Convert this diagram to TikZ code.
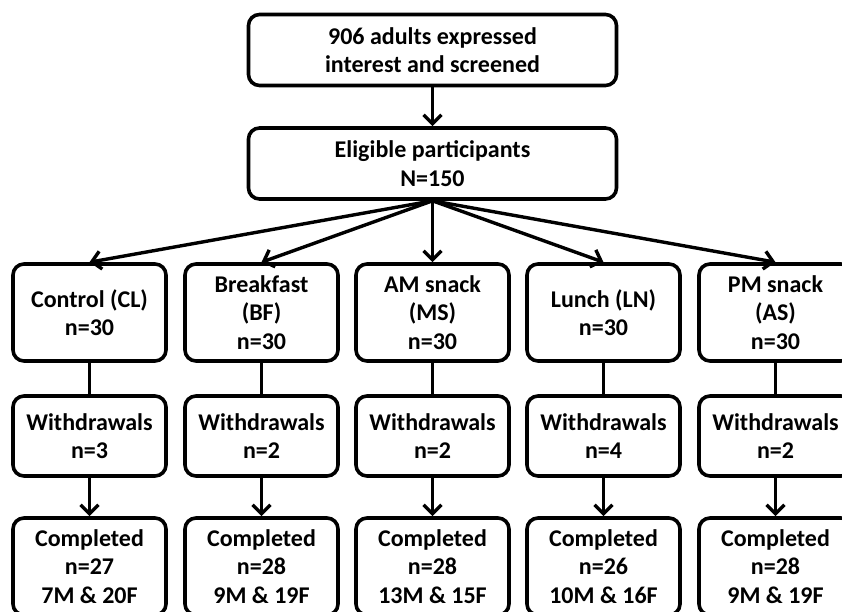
\documentclass[tikz,border=0pt]{standalone}
\usepackage{fontspec}
\setmainfont{Carlito}
\usetikzlibrary{arrows.meta}
\tikzset{
  box/.style={draw, line width=3.6pt, rounded corners=11pt, align=center,
    font=\bfseries\fontsize{24}{28.5}\selectfont, inner sep=0pt},
  topbox/.style={box, minimum width=368pt, minimum height=71pt},
  grpbox/.style={box, minimum width=153pt, minimum height=97pt},
  wdbox/.style={box, minimum width=153pt, minimum height=80pt},
  conn/.style={line width=3.4pt},
  arr/.style={conn, -{Straight Barb[length=9pt,width=18pt,line width=3.4pt]}},
}
\begin{document}
\begin{tikzpicture}[x=1pt,y=-1pt]
\useasboundingbox (0,0) rectangle (842,611);
\clip (0,0) rectangle (842,611);
\node[topbox] (scr) at (432.5,50) {906 adults expressed\\interest and screened};
\node[topbox] (elig) at (432.5,163.5) {Eligible participants\\N=150};
\node[grpbox] (cl) at (89.5,312.5) {Control (CL)\\n=30};
\node[grpbox] (bf) at (261.5,312.5) {Breakfast\\(BF)\\n=30};
\node[grpbox] (ms) at (432.5,312.5) {AM snack\\(MS)\\n=30};
\node[grpbox] (ln) at (603.5,312.5) {Lunch (LN)\\n=30};
\node[grpbox] (as) at (775.5,312.5) {PM snack\\(AS)\\n=30};
\node[wdbox] (wcl) at (89.5,436) {Withdrawals\\n=3};
\node[wdbox] (wbf) at (261.5,436) {Withdrawals\\n=2};
\node[wdbox] (wms) at (432.5,436) {Withdrawals\\n=2};
\node[wdbox] (wln) at (603.5,436) {Withdrawals\\n=4};
\node[wdbox] (was) at (775.5,436) {Withdrawals\\n=2};
\node[grpbox] (ccl) at (89.5,566.5) {Completed\\n=27\\7M \& 20F};
\node[grpbox] (cbf) at (261.5,566.5) {Completed\\n=28\\9M \& 19F};
\node[grpbox] (cms) at (432.5,566.5) {Completed\\n=28\\13M \& 15F};
\node[grpbox] (cln) at (603.5,566.5) {Completed\\n=26\\10M \& 16F};
\node[grpbox] (cas) at (775.5,566.5) {Completed\\n=28\\9M \& 19F};
\draw[arr] (scr) -- (elig);
\foreach \g in {cl,bf,ms,ln,as}{
  \draw[arr] (elig.south) -- (\g.north);
  \draw[conn] (\g) -- (w\g);
  \draw[arr] (w\g) -- (c\g);
}
\end{tikzpicture}
\end{document}
